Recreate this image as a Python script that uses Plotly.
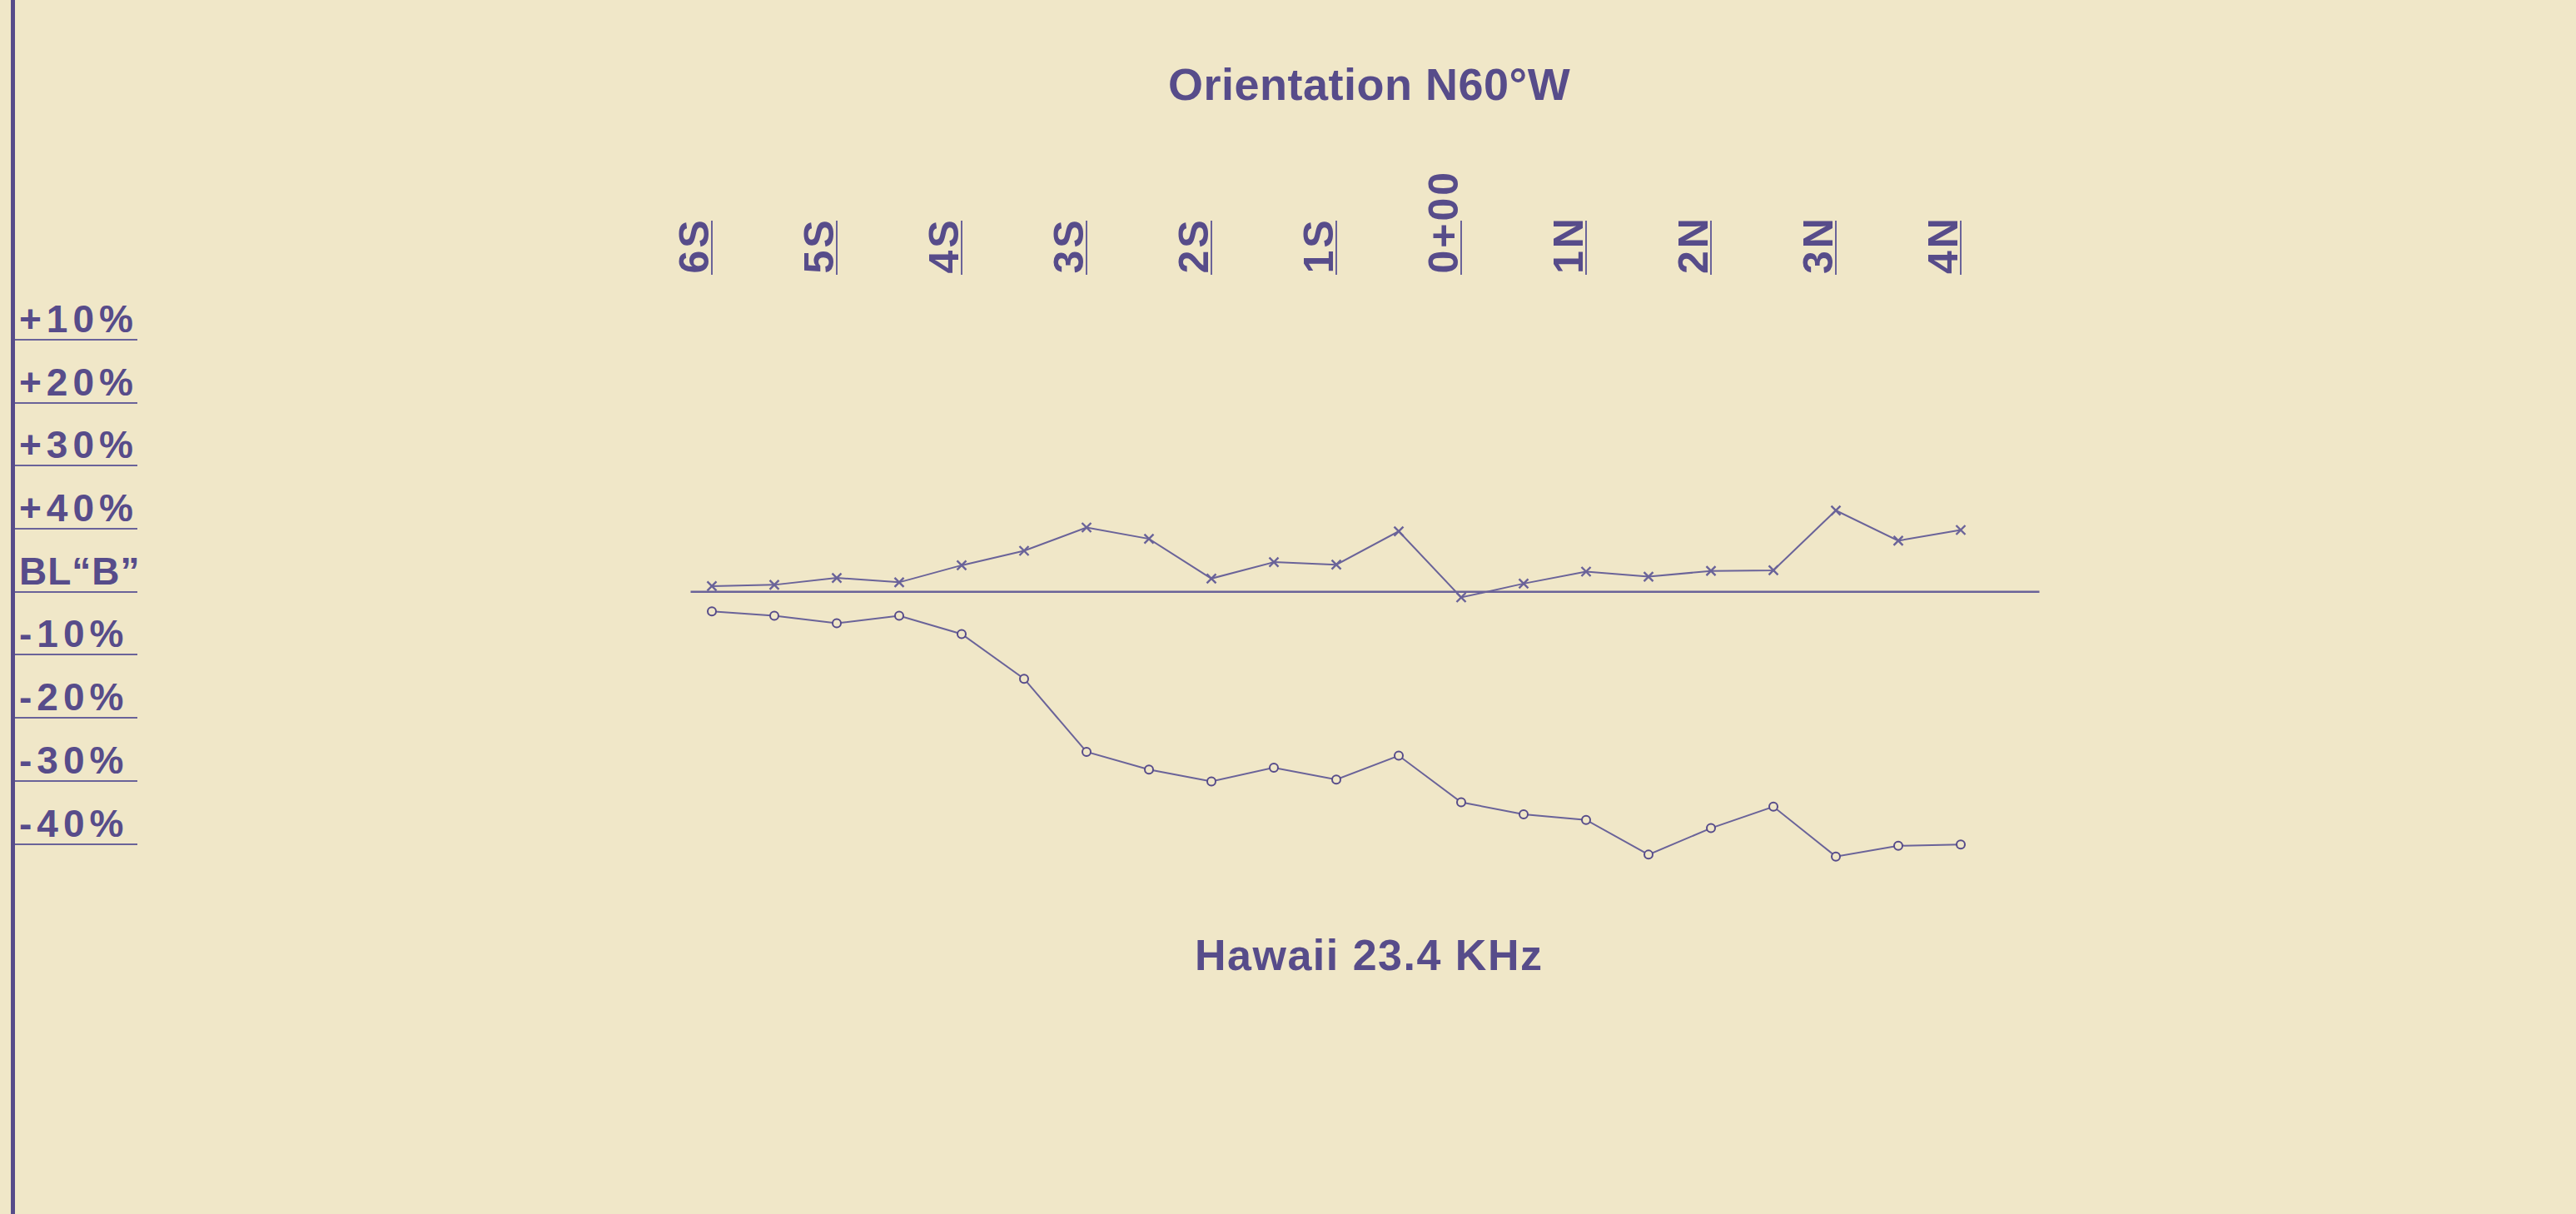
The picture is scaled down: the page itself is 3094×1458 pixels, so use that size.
import plotly.graph_objects as go

# ---------------- data ----------------
stations = [-6, -5.5, -5, -4.5, -4, -3.5, -3, -2.5, -2, -1.5, -1, -0.5,
            0, 0.5, 1, 1.5, 2, 2.5, 3, 3.5, 4]
x_series = [0.9, 1.1, 2.2, 1.5, 4.2, 6.5, 10.2, 8.4, 2.1, 4.7, 4.3, 9.6,
            -0.9, 1.3, 3.2, 2.4, 3.3, 3.4, 12.9, 8.1, 9.8]
o_series = [-3.1, -3.8, -5.0, -3.8, -6.7, -13.8, -25.4, -28.2, -30.1, -27.9, -29.8, -26.0,
            -33.4, -35.3, -36.2, -41.7, -37.5, -34.1, -42.0, -40.3, -40.1]

station_pos = [-6, -5, -4, -3, -2, -1, 0, 1, 2, 3, 4]
station_labels = ["6S", "5S", "4S", "3S", "2S", "1S", "0+00", "1N", "2N", "3N", "4N"]

ytick_vals = [40, 30, 20, 10, 0, -10, -20, -30, -40]
ytick_text = ["+10%", "+20%", "+30%", "+40%", "BL\u201cB\u201d", "-10%", "-20%", "-30%", "-40%"]

baseline_x = [-6.17, 4.63]
baseline_y = [0, 0]

title_text = "Orientation N60\u00b0W"
sub_text = "Hawaii 23.4 KHz"

# ---------------- style ----------------
W, H = 3094, 1458
BG = "#f0e7c8"
INK = "#574c8a"
LINE = "#6a6399"
FONT = "Liberation Sans"

fig = go.Figure()

# baseline (drawn on the top station axis so that axis is rendered)
fig.add_trace(go.Scatter(
    x=baseline_x, y=baseline_y, mode="lines", xaxis="x2", yaxis="y",
    line=dict(color=LINE, width=2.5), showlegend=False, hoverinfo="skip"))

fig.add_trace(go.Scatter(
    x=stations, y=x_series, mode="lines+markers",
    line=dict(color=LINE, width=2),
    marker=dict(symbol="x-thin-open", size=11, line=dict(color=INK, width=2.4)),
    showlegend=False, hoverinfo="skip"))

fig.add_trace(go.Scatter(
    x=stations, y=o_series, mode="lines+markers",
    line=dict(color=LINE, width=2),
    marker=dict(symbol="circle", size=10, color=BG, line=dict(color=INK, width=2)),
    showlegend=False, hoverinfo="skip"))

annotations = []
# station labels (rotated)
for p, lab in zip(station_pos, station_labels):
    annotations.append(dict(
        x=p, xref="x", y=1 - 331 / H, yref="paper",
        text=f'<span style="letter-spacing:3px">{lab}</span>',
        textangle=-90, showarrow=False, xanchor="center", yanchor="bottom",
        xshift=-21, font=dict(family=FONT, size=50, color=INK, weight="bold")))

# left scale labels
for v, lab in zip(ytick_vals, ytick_text):
    sp = 1 if "B" in lab else 6
    annotations.append(dict(
        x=21 / W, xref="paper", y=v, yref="y",
        text=f'<span style="letter-spacing:{sp}px">{lab}</span>',
        showarrow=False, xanchor="left", yanchor="bottom", yshift=-3,
        font=dict(family=FONT, size=46, color=INK, weight="bold")))

annotations.append(dict(
    x=1644 / W, xref="paper", y=1 - 101 / H, yref="paper",
    text=f'<span style="letter-spacing:0.5px">{title_text}</span>',
    showarrow=False, xanchor="center", yanchor="middle",
    font=dict(family=FONT, size=54, color=INK, weight="bold")))
annotations.append(dict(
    x=1644 / W, xref="paper", y=1 - 1147 / H, yref="paper",
    text=f'<span style="letter-spacing:1.5px">{sub_text}</span>',
    showarrow=False, xanchor="center", yanchor="middle",
    font=dict(family=FONT, size=52, color=INK, weight="bold")))

xr = [-6 - 855 / 150, -6 + (W - 855) / 150]
yr = [-(H - 710.7) / 7.57, 710.7 / 7.57]

fig.update_layout(
    width=W, height=H, autosize=False,
    paper_bgcolor=BG, plot_bgcolor=BG,
    margin=dict(l=0, r=0, t=0, b=0, pad=0),
    annotations=annotations,
    xaxis=dict(range=xr, visible=False, domain=[0, 1], fixedrange=True),
    xaxis2=dict(range=xr, overlaying="x", anchor="free", position=1 - 330 / H, side="top",
                showline=False, showgrid=False, zeroline=False, showticklabels=False,
                ticks="outside", ticklen=65, tickwidth=2, tickcolor=LINE,
                tickvals=station_pos, fixedrange=True),
    yaxis=dict(range=yr, domain=[0, 1], anchor="free", position=15 / W,
               showline=True, linecolor=INK, linewidth=5,
               ticks="inside", ticklen=147, tickwidth=2, tickcolor=LINE,
               tickvals=ytick_vals, showticklabels=False,
               showgrid=False, zeroline=False, fixedrange=True),
)

fig.write_html("out.html", config={"displayModeBar": False},
               post_script="document.body.style.margin='0';document.body.style.overflow='hidden';")
